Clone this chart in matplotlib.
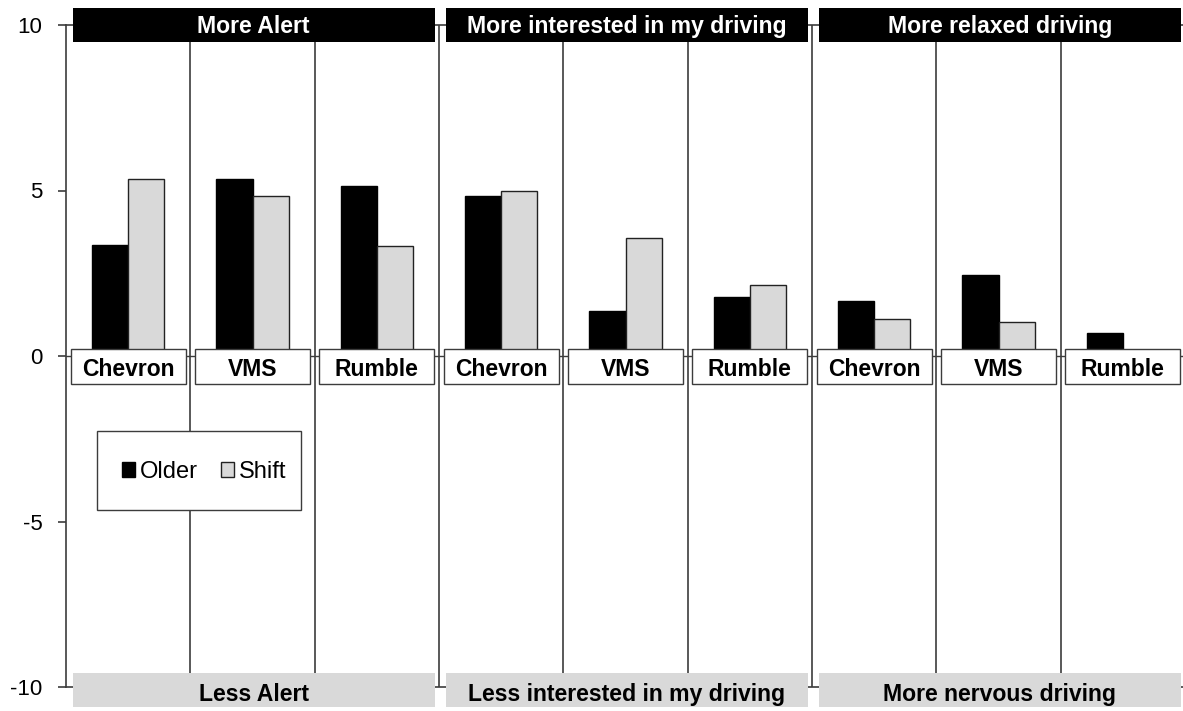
import matplotlib.pyplot as plt
from matplotlib.patches import Rectangle

plt.rcParams['font.family'] = ['Liberation Sans', 'DejaVu Sans']

# values
top_labels = ['More Alert', 'More interested in my driving', 'More relaxed driving']
bottom_labels = ['Less Alert', 'Less interested in my driving', 'More nervous driving']
devices = ['Chevron', 'VMS', 'Rumble']
older = [3.35, 5.35, 5.13, 4.83, 1.36, 1.78, 1.66, 2.45, 0.69]
shift = [5.35, 4.82, 3.33, 5.00, 3.55, 2.14, 1.12, 1.04, 0.0]
yticks = [-10, -5, 0, 5, 10]
ytick_labels = ['-10', '-5', '0', '5', '10']

grey = '#d9d9d9'
line_col = '#3c3c3c'

fig = plt.figure(figsize=(11.83, 7.11), dpi=100)
ax = fig.add_axes([66 / 1183, 24 / 711, 1119 / 1183, 662 / 711])

n = len(older)
ax.set_xlim(0, n)
ax.set_ylim(-10, 10)

# group separators and horizontal lines
for i in range(1, n):
    ax.axvline(i, color=line_col, lw=1.2, zorder=1)
ax.axhline(0, color=line_col, lw=1, zorder=1)
for s in ['left', 'top', 'bottom', 'right']:
    ax.spines[s].set_color(line_col)
    ax.spines[s].set_linewidth(1.2)

# bars
w = 0.29
xs = [i + 0.5 for i in range(n)]
ax.bar([x - w / 2 for x in xs], older, w, color='black', edgecolor='black', lw=1, zorder=2, label='Older')
ax.bar([x + w / 2 for x in xs], shift, w, color=grey, edgecolor='#222222', lw=1, zorder=2, label='Shift')

# device label boxes on the zero line
for i in range(n):
    ax.add_patch(Rectangle((i + 0.5 - 0.4625, -0.85), 0.925, 1.06, facecolor='white',
                           edgecolor=line_col, lw=1, zorder=4))
    ax.text(i + 0.5, -0.60, devices[i % 3], ha='center', va='baseline',
            fontsize=16.5, fontweight='bold', zorder=5)

# category headers (top) and opposite labels (bottom)
for k in range(3):
    x0 = 3 * k + 0.055
    ax.add_patch(Rectangle((x0, 9.49), 2.91, 1.02, facecolor='black', edgecolor='none',
                           zorder=4, clip_on=False))
    ax.text(3 * k + 1.51, 9.75, top_labels[k], ha='center', va='baseline', color='white',
            fontsize=16.6, fontweight='bold', zorder=5, clip_on=False)
    ax.add_patch(Rectangle((x0, -10.6), 2.91, 1.02, facecolor=grey, edgecolor='none',
                           zorder=4, clip_on=False))
    ax.text(3 * k + 1.51, -10.42, bottom_labels[k], ha='center', va='baseline', color='black',
            fontsize=16.6, fontweight='bold', zorder=5, clip_on=False)

# legend box
ax.add_patch(Rectangle((0.25, -4.65), 1.64, 2.37, facecolor='white', edgecolor=line_col,
                       lw=1, zorder=4))
leg = ax.legend(loc='center', bbox_to_anchor=(1.11, -3.5), bbox_transform=ax.transData,
                ncol=2, frameon=False, fontsize=17, handlelength=0.56, handleheight=0.56,
                handletextpad=0.2, columnspacing=1.0, borderpad=0)
leg.set_zorder(6)

ax.set_xticks([])
ax.set_yticks(yticks)
ax.set_yticklabels(ytick_labels)
ax.tick_params(axis='y', direction='out', length=6, width=1.2, color=line_col,
               labelsize=16, pad=11)

fig.savefig('out.png', dpi=100)
